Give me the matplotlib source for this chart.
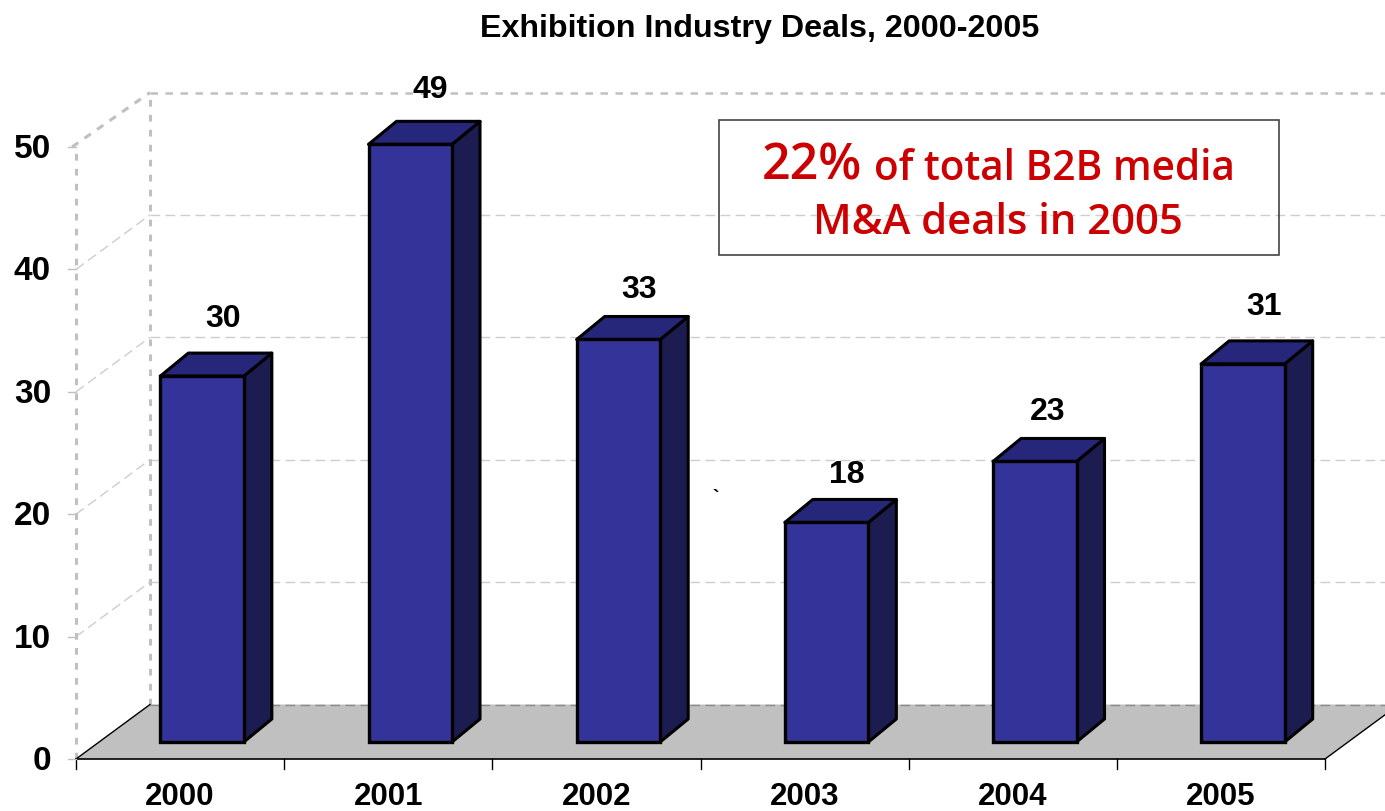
import matplotlib
matplotlib.use('Agg')
import matplotlib.pyplot as plt
from matplotlib.patches import Polygon, Rectangle

years = ['2000', '2001', '2002', '2003', '2004', '2005']
deals = [30, 49, 33, 18, 23, 31]
y_ticks = [0, 10, 20, 30, 40, 50]

# where the value labels sit over each bar, in pixels from the top left
label_x_px = [223, 430, 639, 847, 1048, 1264]
label_y_px = [316, 87, 286, 472, 409, 304]

W, H = 1385, 812
CAT_PX = 208.17    # pixels per category
VAL_PX = 12.24     # pixels per deal
X0, Y0 = 76, 760   # pixel position of the front origin

# depth of the chart box and of the bars, in data units
FLOOR_DX = 74 / CAT_PX
FLOOR_DY = 54.5 / VAL_PX
BAR_DX = 28 / CAT_PX
BAR_DY = 23 / VAL_PX
BAR_W = 83.5 / CAT_PX
BAR_SHIFT = 22 / CAT_PX
BAR_BASE = 17 / VAL_PX
BAR_SCALE = 0.9965  # bars sit slightly further back than the axis

GREY = '#C0C0C0'
GRID = '#CDCDCD'
FONT = 'Liberation Sans'


def px_x(x):
    return (x - X0) / CAT_PX


def px_y(y):
    return (Y0 - y) / VAL_PX


fig = plt.figure(figsize=(W / 100, H / 100), dpi=100)
ax = fig.add_axes([0, 0, 1, 1])
ax.set_xlim(px_x(0), px_x(W))
ax.set_ylim(px_y(H), px_y(0))
ax.axis('off')

n = len(years)
top = y_ticks[-1]

# back and side wall
for v in y_ticks[1:-1]:
    ax.plot([0, FLOOR_DX], [v, v + FLOOR_DY], color=GRID, lw=1, dashes=(7, 3.8), zorder=1)
    ax.plot([FLOOR_DX, n + FLOOR_DX], [v + FLOOR_DY] * 2, color=GRID, lw=1, dashes=(7, 3.8), zorder=1)
ax.plot([0, 0], [0, top], color=GREY, lw=2.2, dashes=(2.2, 2.7), zorder=1)
ax.plot([FLOOR_DX, FLOOR_DX], [FLOOR_DY, top + FLOOR_DY], color=GREY, lw=2.2, dashes=(2.2, 2.7), zorder=1)
ax.plot([FLOOR_DX, n + FLOOR_DX], [top + FLOOR_DY] * 2, color=GREY, lw=1.8, dashes=(3, 3), zorder=1)
ax.plot([-4 / CAT_PX, FLOOR_DX], [top, top + FLOOR_DY], color=GREY, lw=2.2, dashes=(2.5, 2.5), zorder=1)

# floor
ax.add_patch(Polygon([(0, 0), (FLOOR_DX, FLOOR_DY), (n + FLOOR_DX, FLOOR_DY), (n, 0)],
                     closed=True, facecolor=GREY, edgecolor='none', zorder=2))
ax.plot([0, FLOOR_DX], [0, FLOOR_DY], color='black', lw=1, zorder=3)
ax.plot([n, n + FLOOR_DX], [0, FLOOR_DY], color='black', lw=1, zorder=3)
ax.plot([FLOOR_DX, n + FLOOR_DX], [FLOOR_DY, FLOOR_DY], color='#8A8A8A', lw=1, dashes=(7, 3.8), zorder=3)
ax.plot([0, n], [0, 0], color='black', lw=1.2, zorder=3)

# ticks
for i in range(n + 1):
    ax.plot([i, i], [0, -10 / VAL_PX], color='black', lw=1, zorder=3)
for v in y_ticks:
    ax.plot([-8 / CAT_PX, 0], [v, v], color=GREY, lw=1, zorder=3)
    ax.text(-25 / CAT_PX, v + 2 / VAL_PX, str(v), ha='right', va='center_baseline', family=FONT,
            fontsize=24, fontweight='bold', color='black')

# bars
xs = [i + 0.5 + BAR_SHIFT for i in range(n)]
heights = [d * BAR_SCALE for d in deals]
ax.bar(xs, heights, width=BAR_W, bottom=BAR_BASE, color='#333399', edgecolor='black',
       linewidth=2.4, zorder=5)
for i, (x, h) in enumerate(zip(xs, heights)):
    l, r = x - BAR_W / 2, x + BAR_W / 2
    b, t = BAR_BASE, BAR_BASE + h
    ax.add_patch(Polygon([(r, b), (r + BAR_DX, b + BAR_DY), (r + BAR_DX, t + BAR_DY), (r, t)],
                         closed=True, facecolor='#1C1C50', edgecolor='black', lw=2.2,
                         joinstyle='round', zorder=4))
    ax.add_patch(Polygon([(l, t), (l + BAR_DX, t + BAR_DY), (r + BAR_DX, t + BAR_DY), (r, t)],
                         closed=True, facecolor='#26267A', edgecolor='black', lw=2.2,
                         joinstyle='round', zorder=4))
    ax.text(px_x(label_x_px[i]), px_y(label_y_px[i]), str(deals[i]), ha='center', va='center_baseline',
            family=FONT, fontsize=23, fontweight='bold', color='black', zorder=6)
    ax.text(i + 0.5, px_y(805), years[i], ha='center', va='baseline', family=FONT,
            fontsize=22.5, fontweight='bold', color='black')

# title
ax.text(px_x(760), px_y(26), 'Exhibition Industry Deals, 2000-2005', ha='center',
        va='center_baseline', family=FONT, fontsize=23.2, fontweight='bold', color='black')

# callout box
ax.add_patch(Rectangle((px_x(719), px_y(255.5)), 560 / CAT_PX, 135 / VAL_PX, facecolor='none',
                       edgecolor='#444444', lw=1.2, zorder=6))
RED = '#CC0000'
ax.text(px_x(762), px_y(180), '22%', ha='left', va='baseline', family='Open Sans',
        fontsize=36, fontweight='semibold', color=RED, zorder=7)
ax.text(px_x(1235), px_y(180), 'of total B2B media', ha='right', va='baseline',
        family='Open Sans', fontsize=29.2, fontweight='semibold', color=RED, zorder=7)
ax.text(px_x(998), px_y(234), 'M&A deals in 2005', ha='center', va='baseline',
        family='Open Sans', fontsize=30.2, fontweight='semibold', color=RED, zorder=7)

# stray mark in the source slide
ax.text(px_x(712), px_y(499), '`', ha='left', va='center', family=FONT,
        fontsize=14, fontweight='bold', color='black')

fig.savefig('out.png', dpi=100)
